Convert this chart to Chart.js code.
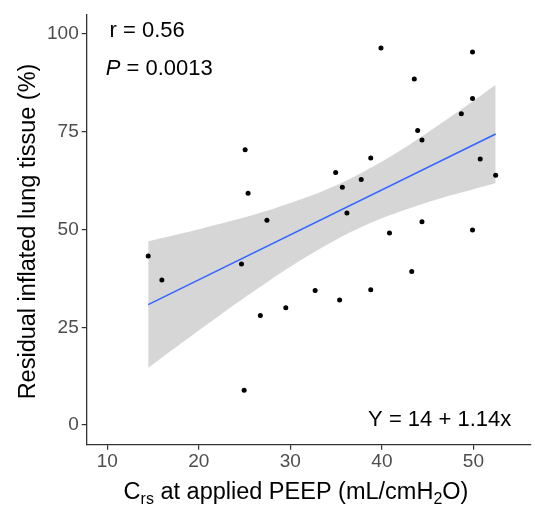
<!DOCTYPE html>
<html>
<head>
<meta charset="utf-8">
<script src="https://cdn.jsdelivr.net/npm/chart.js@4.4.1/dist/chart.umd.min.js"></script>
<style>
  html, body { margin: 0; padding: 0; background: #ffffff; }
  #wrap { width: 535px; height: 510px; }
</style>
</head>
<body>
<div id="wrap"><canvas id="c" width="535" height="510"></canvas></div>
<script>
// ---- data ----
const xTickValues = [10, 20, 30, 40, 50];
const yTickValues = [0, 25, 50, 75, 100];

const crsValues = [14.47, 15.96, 24.66, 25.06, 25.38, 24.95, 26.72, 27.44, 29.50, 32.71,
                   34.95, 35.38, 35.68, 36.18, 37.74, 38.78, 38.78, 39.90, 40.83, 43.26,
                   43.54, 43.91, 44.38, 44.38, 48.68, 49.90, 49.90, 49.90, 50.74, 52.43];
const inflatedValues = [43.2, 37.1, 41.2, 70.4, 59.3, 8.9, 28.0, 52.4, 30.0, 34.4,
                        64.6, 32.0, 60.8, 54.2, 62.8, 68.3, 34.6, 96.4, 49.1, 39.3,
                        88.5, 75.3, 72.9, 52.0, 79.6, 95.4, 83.5, 49.9, 68.0, 63.9];

const fitX = [14.47, 52.43];
const fitY = [30.8, 74.4];

const bandX     = [14.47, 18, 22, 26, 30, 34, 38, 42, 46, 50, 52.43];
const bandUpper = [47.0, 48.9, 51.3, 53.8, 56.8, 60.3, 64.8, 70.2, 76.4, 82.9, 87.0];
const bandLower = [14.6, 20.8, 27.6, 34.2, 40.5, 46.1, 50.9, 54.6, 57.7, 60.3, 61.8];

const annR = "r = 0.56";
const annPValue = " = 0.0013";
const annEq = "Y = 14 + 1.14x";
const yTitle = "Residual inflated lung tissue (%)";

// ---- build datasets ----
const pts = (xs, ys) => xs.map((x, i) => ({ x: x, y: ys[i] }));

const FONT = "'Liberation Sans', Arial, sans-serif";

const overlayPlugin = {
  id: 'overlay',
  afterDraw(chart) {
    const ctx = chart.ctx;
    const xs = chart.scales.x, ys = chart.scales.y;
    const ca = chart.chartArea;
    ctx.save();
    ctx.fillStyle = '#000000';
    ctx.textBaseline = 'alphabetic';

    // annotations (data coordinates)
    ctx.font = '22px ' + FONT;
    ctx.textAlign = 'left';
    ctx.fillText(annR, xs.getPixelForValue(10.25), ys.getPixelForValue(99.2));
    let px = xs.getPixelForValue(9.82), py = ys.getPixelForValue(89.5);
    ctx.font = 'italic 22px ' + FONT;
    ctx.fillText('P', px, py);
    const pw = ctx.measureText('P').width;
    ctx.font = '22px ' + FONT;
    ctx.fillText(annPValue, px + pw, py);
    ctx.textAlign = 'right';
    ctx.fillText(annEq, xs.getPixelForValue(54.13), ys.getPixelForValue(-0.25));

    // x axis title with subscripts
    const big = '23.5px ' + FONT, small = '16px ' + FONT;
    const parts = [
      ['C', big, 0], ['rs', small, 5], [' at applied PEEP (mL/cmH', big, 0],
      ['2', small, 5], ['O)', big, 0]
    ];
    let total = 0;
    parts.forEach(p => { ctx.font = p[1]; total += ctx.measureText(p[0]).width; });
    let cx = 296 - total / 2;
    const base = 499;
    ctx.textAlign = 'left';
    parts.forEach(p => {
      ctx.font = p[1];
      ctx.fillText(p[0], cx, base + p[2]);
      cx += ctx.measureText(p[0]).width;
    });

    // y axis title
    ctx.save();
    ctx.translate(35, 231.5);
    ctx.rotate(-Math.PI / 2);
    ctx.font = big;
    ctx.textAlign = 'center';
    ctx.fillText(yTitle, 0, 0);
    ctx.restore();

    ctx.restore();
  }
};

const chart = new Chart(document.getElementById('c'), {
  type: 'scatter',
  data: {
    datasets: [
      {
        label: 'upper',
        data: pts(bandX, bandUpper),
        showLine: true,
        borderWidth: 0,
        borderColor: 'rgba(0,0,0,0)',
        pointRadius: 0,
        backgroundColor: '#d6d6d6',
        fill: '+1',
        tension: 0.4,
        order: 3
      },
      {
        label: 'lower',
        data: pts(bandX, bandLower),
        showLine: true,
        borderWidth: 0,
        borderColor: 'rgba(0,0,0,0)',
        pointRadius: 0,
        fill: false,
        tension: 0.4,
        order: 4
      },
      {
        label: 'fit',
        data: pts(fitX, fitY),
        showLine: true,
        borderColor: '#3366ff',
        borderWidth: 1.6,
        pointRadius: 0,
        fill: false,
        order: 2
      },
      {
        label: 'data',
        data: pts(crsValues, inflatedValues),
        showLine: false,
        pointRadius: 2.5,
        pointBorderWidth: 0,
        pointBackgroundColor: '#000000',
        pointBorderColor: '#000000',
        order: 1
      }
    ]
  },
  options: {
    responsive: false,
    animation: false,
    devicePixelRatio: 1,
    layout: { padding: { top: 12.35, right: 0, left: 0, bottom: 0 } },
    plugins: {
      legend: { display: false },
      tooltip: { enabled: false },
      title: { display: false }
    },
    scales: {
      x: {
        type: 'linear',
        min: 7.75,
        max: 56.29,
        afterBuildTicks: s => { s.ticks = xTickValues.map(v => ({ value: v })); },
        afterFit: s => { s.height = 65.35; },
        grid: { drawOnChartArea: false, drawTicks: true, tickLength: 5, color: '#333333', lineWidth: 1.2 },
        border: { display: true, color: '#333333', width: 1.3 },
        ticks: { color: '#4d4d4d', font: { family: FONT, size: 19 }, padding: 1, maxRotation: 0 }
      },
      y: {
        type: 'linear',
        min: -5,
        max: 105,
        afterBuildTicks: s => { s.ticks = yTickValues.map(v => ({ value: v })); },
        afterFit: s => { s.width = 86.7; },
        grid: { drawOnChartArea: false, drawTicks: true, tickLength: 5, color: '#333333', lineWidth: 1.2 },
        border: { display: true, color: '#333333', width: 1.3 },
        ticks: { color: '#4d4d4d', font: { family: FONT, size: 19 }, padding: 3 }
      }
    }
  },
  plugins: [overlayPlugin]
});
</script>
</body>
</html>
